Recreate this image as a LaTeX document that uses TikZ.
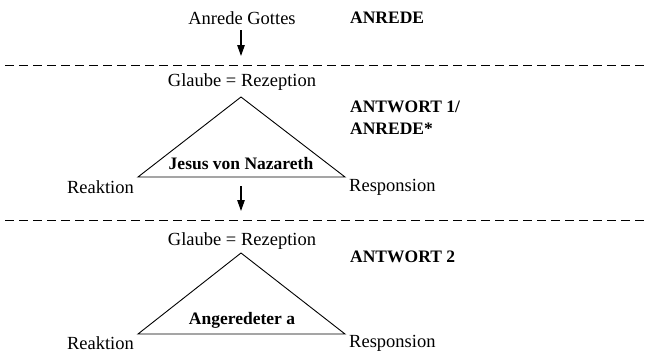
\documentclass[tikz,border=0pt]{standalone}
\usepackage{fontspec}
\setmainfont{Liberation Serif}
\usetikzlibrary{arrows.meta}
\begin{document}
\begin{tikzpicture}[x=1pt,y=-1pt,
  txt/.style={inner sep=0pt,font=\fontsize{18.5}{21}\selectfont},
  btxt/.style={inner sep=0pt,font=\fontsize{17.5}{21}\selectfont\bfseries},
  sep/.style={dash pattern=on 9pt off 5pt,line width=0.9pt},
  tri/.style={line width=0.9pt,line join=miter},
  arr/.style={line width=1.2pt,-{Triangle[length=11pt,width=7.5pt]}}]
\useasboundingbox (0,0) rectangle (649,356);
% top level
\node[txt] (ag) at (242,18) {Anrede Gottes};
\node[btxt,anchor=west] (l0) at (350,18) {ANREDE};
\coordinate (a1s) at (241,30);
\coordinate (a1e) at (241,56);
\draw[arr] (a1s) -- (a1e);
\coordinate (d1a) at (5,65); \coordinate (d1b) at (649,65);
\draw[sep] (d1a) -- (d1b);
% first triangle
\node[txt] (g1) at (242,82) {Glaube = Rezeption};
\coordinate (t1a) at (241,97);
\coordinate (t1l) at (138,177);
\coordinate (t1r) at (345,177);
\draw[tri] (t1l) -- (t1a) -- (t1r) -- cycle;
\node[btxt] (j) at (241,164) {Jesus von Nazareth};
\node[txt,anchor=east] (r1) at (134,187) {Reaktion};
\node[txt,anchor=west] (p1) at (349,187) {Responsion};
\node[btxt,anchor=west] (l1) at (350,107) {ANTWORT 1/};
\node[btxt,anchor=west] (l1b) at (350,129) {ANREDE*};
\coordinate (a2s) at (241,186);
\coordinate (a2e) at (241,211);
\draw[arr] (a2s) -- (a2e);
\coordinate (d2a) at (5,220); \coordinate (d2b) at (649,220);
\draw[sep] (d2a) -- (d2b);
% second triangle
\node[txt] (g2) at (242,241) {Glaube = Rezeption};
\coordinate (t2a) at (241,253);
\coordinate (t2l) at (138,334);
\coordinate (t2r) at (345,334);
\draw[tri] (t2l) -- (t2a) -- (t2r) -- cycle;
\node[btxt] (an) at (242,320) {Angeredeter a};
\node[txt,anchor=east] (r2) at (134,343) {Reaktion};
\node[txt,anchor=west] (p2) at (349,343) {Responsion};
\node[btxt,anchor=west] (l2) at (350,257) {ANTWORT 2};
\end{tikzpicture}
\end{document}
